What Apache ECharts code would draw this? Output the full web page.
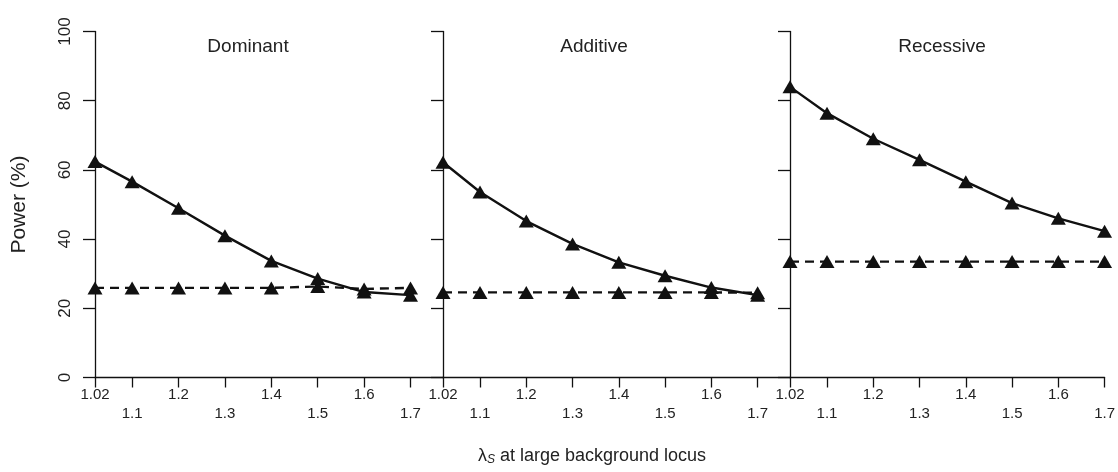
<!DOCTYPE html>
<html>
<head>
<meta charset="utf-8">
<script src="https://cdn.jsdelivr.net/npm/echarts@6/dist/echarts.min.js"></script>
<style>
html,body{margin:0;padding:0;background:#fff;}
#c{width:1118px;height:472px;}
</style>
</head>
<body>
<div id="c"></div>
<script>
const xValues = [1.02, 1.1, 1.2, 1.3, 1.4, 1.5, 1.6, 1.7];
const xTickLabels = ['1.02', '1.1', '1.2', '1.3', '1.4', '1.5', '1.6', '1.7'];
const yTicks = [0, 20, 40, 60, 80, 100];
const panelTitles = ['Dominant', 'Additive', 'Recessive'];

const dominantSolid = [62.4, 56.6, 48.9, 41.0, 33.7, 28.6, 24.7, 23.8];
const dominantDashed = [25.9, 25.9, 25.9, 25.9, 25.9, 26.3, 25.6, 25.9];
const additiveSolid = [62.2, 53.6, 45.2, 38.6, 33.3, 29.4, 26.0, 23.8];
const additiveDashed = [24.6, 24.6, 24.6, 24.6, 24.6, 24.6, 24.6, 24.5];
const recessiveSolid = [84.0, 76.4, 69.0, 62.9, 56.6, 50.4, 46.0, 42.3];
const recessiveDashed = [33.5, 33.5, 33.5, 33.5, 33.5, 33.5, 33.5, 33.5];

const solidSets = [dominantSolid, additiveSolid, recessiveSolid];
const dashedSets = [dominantDashed, additiveDashed, recessiveDashed];

const FONT = 'Liberation Sans, Arial, sans-serif';
const INK = '#111';
const TXT = '#222';

const grids = [
  {left: 95, top: 31.5, width: 348, height: 346},
  {left: 443, top: 31.5, width: 347, height: 346},
  {left: 790, top: 31.5, width: 316, height: 346}
];
const xMax = [1.77, 1.77, 1.7];

const xAxes = grids.map((g, i) => ({
  gridIndex: i,
  type: 'value',
  min: 1.02,
  max: xMax[i],
  splitLine: {show: false},
  axisLine: {show: true, onZero: false, lineStyle: {color: INK, width: 1.3}},
  axisTick: {show: true, length: 10, customValues: xValues, lineStyle: {color: INK, width: 1.3}},
  axisLabel: {
    show: true,
    customValues: xValues,
    margin: 8,
    color: TXT,
    fontFamily: FONT,
    fontSize: 15,
    lineHeight: 19,
    formatter: function (v) {
      let idx = xValues.findIndex(x => Math.abs(x - v) < 1e-6);
      if (idx < 0) return '';
      return idx % 2 === 1 ? '\n' + xTickLabels[idx] : xTickLabels[idx];
    }
  }
}));

const yAxes = grids.map((g, i) => ({
  gridIndex: i,
  type: 'value',
  min: yTicks[0],
  max: yTicks[yTicks.length - 1],
  interval: 20,
  splitLine: {show: false},
  axisLine: {show: true, lineStyle: {color: INK, width: 1.3}},
  axisTick: {show: true, length: 12, lineStyle: {color: INK, width: 1.3}},
  axisLabel: {
    show: i === 0,
    rotate: 90,
    margin: 21,
    color: TXT,
    fontFamily: FONT,
    fontSize: 17
  },
  name: i === 0 ? 'Power (%)' : '',
  nameLocation: 'middle',
  nameGap: 65,
  nameRotate: 90,
  nameTextStyle: {color: TXT, fontFamily: FONT, fontSize: 21}
}));

const series = [];
for (let i = 0; i < 3; i++) {
  series.push({
    type: 'line',
    xAxisIndex: i, yAxisIndex: i,
    data: xValues.map((x, k) => [x, solidSets[i][k]]),
    symbol: 'triangle',
    symbolSize: [15, 13],
    lineStyle: {color: INK, width: 2.4, type: 'solid'},
    itemStyle: {color: INK},
    silent: true,
    z: 3
  });
  series.push({
    type: 'line',
    xAxisIndex: i, yAxisIndex: i,
    data: xValues.map((x, k) => [x, dashedSets[i][k]]),
    symbol: 'triangle',
    symbolSize: [15, 13],
    lineStyle: {color: INK, width: 2.4, type: [9, 6]},
    itemStyle: {color: INK},
    silent: true,
    z: 2
  });
}

const titleCenters = [248, 594, 942];
const graphic = panelTitles.map((t, i) => ({
  type: 'text',
  x: titleCenters[i],
  y: 47,
  style: {text: t, fill: TXT, font: '19px ' + FONT, textAlign: 'center', textVerticalAlign: 'middle'}
}));
graphic.push({
  type: 'text',
  x: 592,
  y: 456,
  style: {
    text: '{l|λ}{s|S} at large background locus',
    fill: TXT,
    font: '18px ' + FONT,
    textAlign: 'center',
    textVerticalAlign: 'middle',
    rich: {
      l: {fontFamily: FONT, fontSize: 18, fill: TXT},
      s: {fontFamily: FONT, fontSize: 12, fontStyle: 'italic', fill: TXT, padding: [8, 0, 0, 0]}
    }
  }
});

const chart = echarts.init(document.getElementById('c'), null, {renderer: 'canvas'});
chart.setOption({
  backgroundColor: '#fff',
  animation: false,
  grid: grids,
  xAxis: xAxes,
  yAxis: yAxes,
  series: series,
  graphic: graphic
});
</script>
</body>
</html>
